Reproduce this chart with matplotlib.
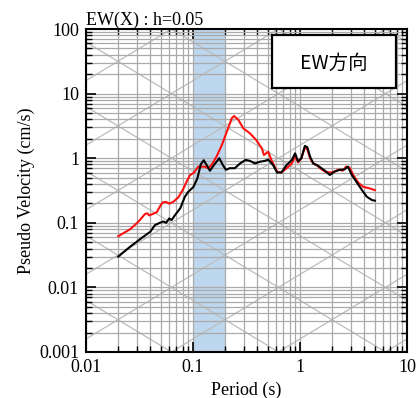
import numpy as np
import matplotlib
matplotlib.use('Agg')
import matplotlib.pyplot as plt
from matplotlib.ticker import LogLocator, FixedFormatter, FixedLocator
from matplotlib.patches import Rectangle

# red spectrum (period s, pseudo velocity cm/s)
red_T = [0.020, 0.026, 0.031, 0.0356, 0.0374, 0.039, 0.042, 0.0458, 0.049, 0.052, 0.056,
         0.060, 0.065, 0.073, 0.080, 0.088, 0.094, 0.101, 0.112, 0.129, 0.139, 0.149,
         0.166, 0.186, 0.207, 0.23, 0.242, 0.266, 0.295, 0.34, 0.39, 0.44, 0.46, 0.505,
         0.54, 0.61, 0.67, 0.75, 0.84, 0.90, 0.96, 1.03, 1.11, 1.17, 1.24, 1.33, 1.43,
         1.54, 1.71, 1.9, 2.1, 2.3, 2.5, 2.7, 2.9, 3.2, 3.5, 3.9, 4.5, 5.0]
red_V = [0.062, 0.08, 0.105, 0.137, 0.14, 0.13, 0.137, 0.146, 0.178, 0.207, 0.21,
         0.198, 0.21, 0.248, 0.32, 0.449, 0.55, 0.59, 0.74, 0.74, 0.70, 0.785,
         1.06, 1.6, 2.58, 4.14, 4.5, 3.9, 2.9, 2.43, 1.91, 1.42, 1.12, 1.26,
         0.94, 0.62, 0.60, 0.70, 0.83, 1.08, 0.86, 1.0, 1.47, 1.37, 1.0, 0.83, 0.785,
         0.70, 0.62, 0.60, 0.62, 0.67, 0.64, 0.74, 0.72, 0.52, 0.42, 0.36, 0.34, 0.32]

# black spectrum
blk_T = [0.020, 0.026, 0.033, 0.040, 0.044, 0.049, 0.053, 0.056, 0.060, 0.063, 0.068,
         0.076, 0.084, 0.090, 0.101, 0.110, 0.118, 0.126, 0.134, 0.144, 0.157, 0.176,
         0.19, 0.203, 0.22, 0.246, 0.275, 0.31, 0.34, 0.38, 0.42, 0.47, 0.505, 0.56,
         0.61, 0.67, 0.75, 0.84, 0.90, 0.96, 1.03, 1.11, 1.17, 1.24, 1.33, 1.48, 1.67,
         1.9, 2.1, 2.35, 2.6, 2.8, 3.05, 3.4, 3.8, 4.2, 4.7, 5.0]
blk_V = [0.030, 0.043, 0.058, 0.073, 0.092, 0.10, 0.105, 0.10, 0.117, 0.11, 0.132,
         0.168, 0.254, 0.30, 0.36, 0.49, 0.80, 0.93, 0.785, 0.64, 0.785, 1.0,
         0.785, 0.66, 0.70, 0.70, 0.83, 0.94, 0.91, 0.83, 0.88, 0.91, 0.95, 0.785,
         0.60, 0.60, 0.785, 0.94, 1.19, 0.89, 1.0, 1.55, 1.48, 1.06, 0.83, 0.76, 0.66,
         0.55, 0.62, 0.66, 0.67, 0.74, 0.55, 0.42, 0.32, 0.254, 0.225, 0.22]

band = (0.1, 0.2)
x_ticks = [0.01, 0.1, 1, 10]
x_labels = ['0.01', '0.1', '1', '10']
y_ticks = [0.001, 0.01, 0.1, 1, 10, 100]
y_labels = ['0.001', '0.01', '0.1', '1', '10', '100']

plt.rcParams['font.family'] = ['Liberation Serif', 'DejaVu Serif']

fig = plt.figure(figsize=(4.19, 3.98), dpi=100)
ax = fig.add_axes([0.2053, 0.1156, 0.7661, 0.8115])
ax.set_xscale('log')
ax.set_yscale('log')
ax.set_xlim(0.01, 10)
ax.set_ylim(0.001, 100)

ax.axvspan(band[0], band[1], color='#bdd7ee', zorder=0, lw=0)

# tripartite diagonals: displacement and acceleration decades
tt = np.logspace(-2, 1, 50)
for k in range(-6, 4):
    ax.plot(tt, 2 * np.pi * 10.0**k / tt, color='#bcbcbc', lw=0.9, zorder=1)
for k in range(-4, 6):
    ax.plot(tt, 10.0**k * tt / (2 * np.pi), color='#bcbcbc', lw=0.9, zorder=1)

ax.grid(True, which='both', color='#aaaaaa', lw=0.9)

ax.plot(red_T, red_V, color='#ff1010', lw=1.5, zorder=3)
ax.plot(blk_T, blk_V, color='black', lw=1.5, zorder=4)

ax.xaxis.set_major_locator(FixedLocator(x_ticks))
ax.xaxis.set_major_formatter(FixedFormatter(x_labels))
ax.yaxis.set_major_locator(FixedLocator(y_ticks))
ax.yaxis.set_major_formatter(FixedFormatter(y_labels))
ax.xaxis.set_minor_locator(LogLocator(base=10, subs=np.arange(2, 10)))
ax.yaxis.set_minor_locator(LogLocator(base=10, subs=np.arange(2, 10)))
ax.xaxis.set_minor_formatter(plt.NullFormatter())
ax.yaxis.set_minor_formatter(plt.NullFormatter())
ax.tick_params(which='both', direction='in', top=True, right=True, labelsize=13)
ax.tick_params(which='major', length=7, width=1.2, pad=5)
ax.tick_params(which='minor', length=4, width=1)
for s in ax.spines.values():
    s.set_linewidth(1.5)

ax.set_xlabel('Period (s)', fontsize=13, labelpad=4)
ax.set_ylabel('Pseudo Velocity (cm/s)', fontsize=13, labelpad=3)
ax.set_title('EW(X) : h=0.05', loc='left', fontsize=13, pad=3)

ax.add_patch(Rectangle((0.579, 0.817), 0.388, 0.164, transform=ax.transAxes,
                       fc='white', ec='black', lw=1.6, zorder=6))
ax.text(0.773, 0.893, 'EW方向', transform=ax.transAxes, ha='center', va='center',
        fontsize=14, family=['Noto Sans CJK JP', 'DejaVu Sans'], zorder=7)

fig.savefig('out.png', dpi=100)
